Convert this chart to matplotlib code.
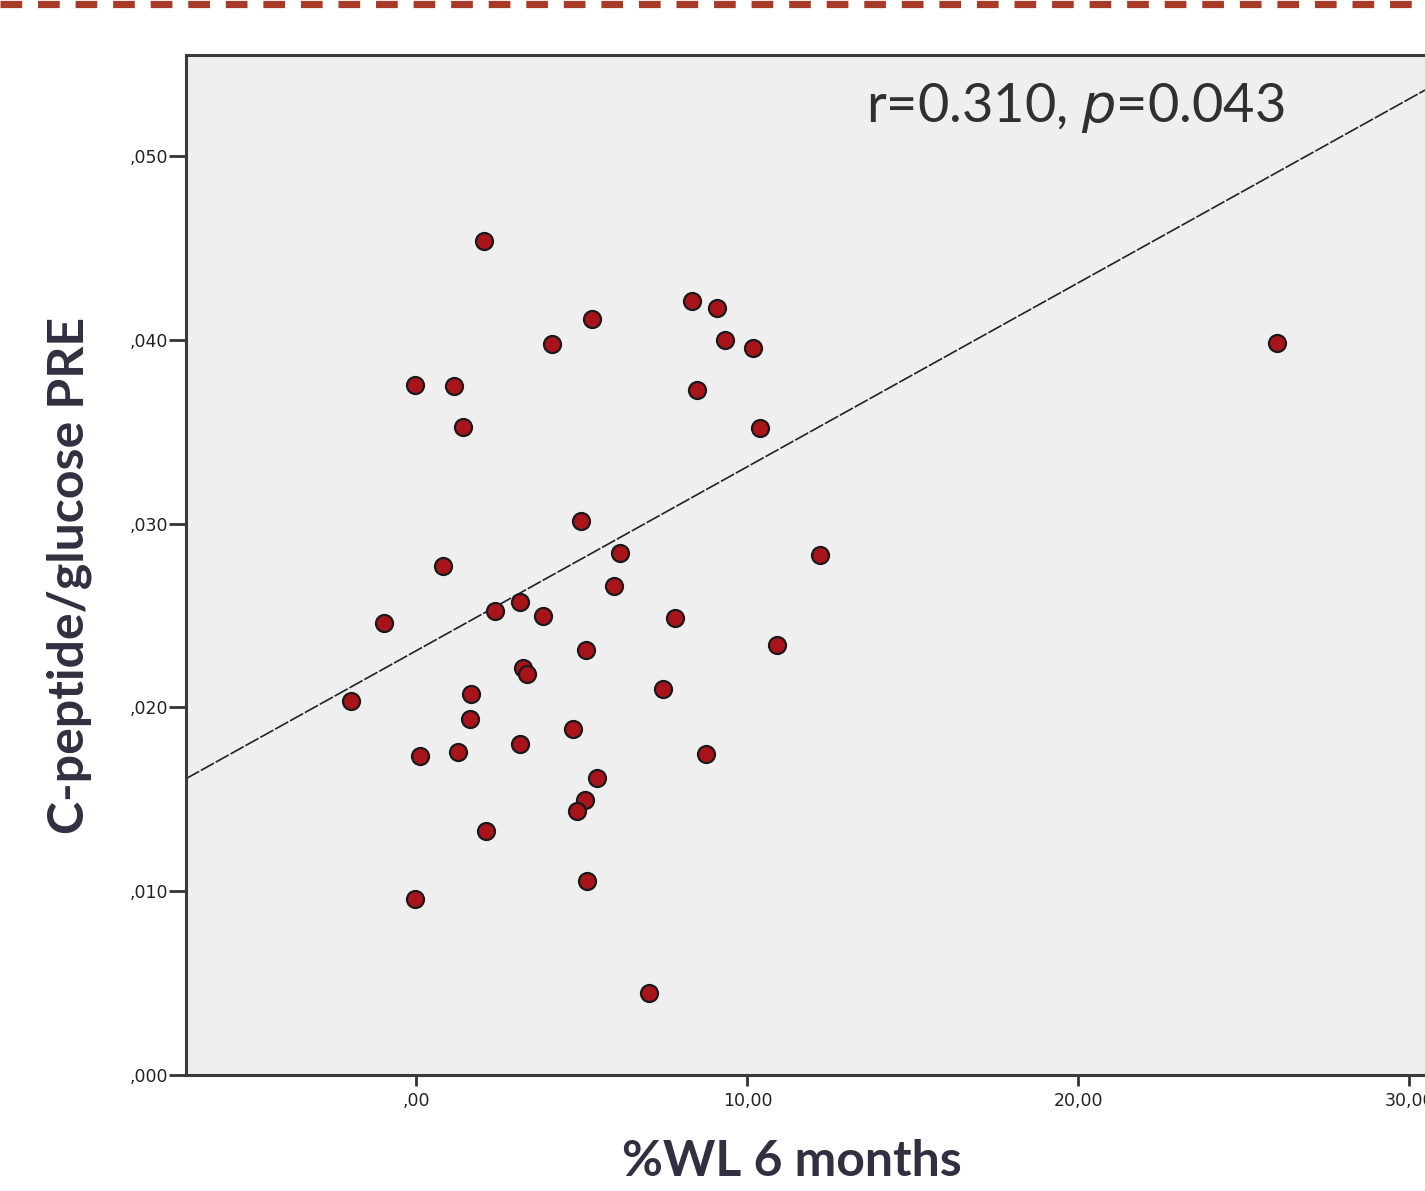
"""Scatter of C-peptide/glucose PRE vs %WL at 6 months (SPSS style)."""
import matplotlib.pyplot as plt
from matplotlib.lines import Line2D
from matplotlib.ticker import FixedLocator, FixedFormatter

# %WL 6 months vs C-peptide/glucose ratio before surgery
wl_6m = [2.04, -0.05, 1.13, 1.40, 4.09, 5.30, 8.32, 9.08, 9.32, 10.17,
         8.47, 10.38, 26.0, 4.97, 6.15, 12.19, 5.97, 0.80, -0.98, 2.37,
         3.13, 3.82, 7.81, 5.12, 10.89, 3.22, 3.34, 1.65, 7.45, -1.98,
         1.62, 4.73, 0.11, 1.25, 3.13, 8.75, 5.45, 5.09, 4.85, 2.10,
         5.16, -0.05, 7.02]
cpep_gluc = [0.04537, 0.03753, 0.03747, 0.03524, 0.03976, 0.04112, 0.04210,
             0.04172, 0.03998, 0.03954, 0.03725, 0.03519, 0.03981, 0.03017,
             0.02843, 0.02832, 0.02663, 0.02772, 0.02462, 0.02527, 0.02576,
             0.02500, 0.02484, 0.02315, 0.02337, 0.02217, 0.02184, 0.02075,
             0.02102, 0.02037, 0.01939, 0.01885, 0.01737, 0.01759, 0.01803,
             0.01748, 0.01618, 0.01498, 0.01438, 0.01329, 0.01057, 0.00959,
             0.00447]

# linear fit shown on the chart
fit_intercept = 0.02309
fit_slope = 0.001001

x_ticks = [0, 10, 20, 30]
x_tick_labels = [",00", "10,00", "20,00", "30,00"]
y_ticks = [0.0, 0.01, 0.02, 0.03, 0.04, 0.05]
y_tick_labels = [",000", ",010", ",020", ",030", ",040", ",050"]

fig = plt.figure(figsize=(14.25, 11.91), dpi=100)
ax = fig.add_axes([186 / 1425, 1 - 1075 / 1191, 1 - 186 / 1425, (1075 - 55) / 1191])
ax.set_facecolor("#efefef")

xlim = (-6.96, 30.47)
ax.set_xlim(*xlim)
ax.set_ylim(0, 0.0555)

# regression line
ax.plot(xlim, [fit_intercept + fit_slope * v for v in xlim],
        color="#222222", lw=1.2, linestyle=(0, (9, 1.2)), zorder=2)

ax.scatter(wl_6m, cpep_gluc, s=150, color="#a8141a", edgecolor="#1a1a1a",
           linewidth=1.6, zorder=3)

for side in ["left", "bottom", "top"]:
    ax.spines[side].set_color("#3a3a3a")
    ax.spines[side].set_linewidth(2.2)
ax.spines["right"].set_visible(False)

ax.xaxis.set_major_locator(FixedLocator(x_ticks))
ax.xaxis.set_major_formatter(FixedFormatter(x_tick_labels))
ax.yaxis.set_major_locator(FixedLocator(y_ticks))
ax.yaxis.set_major_formatter(FixedFormatter(y_tick_labels))
ax.tick_params(axis="x", length=8, width=2, color="#333333", pad=4,
               labelsize=12.5, labelcolor="#222222")
ax.tick_params(axis="y", length=12, width=2, color="#333333", pad=1,
               labelsize=12.5, labelcolor="#222222")

ax.text(0.718, 0.948, "r=0.310, $\\it{p}$=0.043", transform=ax.transAxes,
        ha="center", va="center", fontsize=39, family="Lato", color="#303030")

fig.text(69 / 1425, 1 - 575 / 1191, "C-peptide/glucose PRE", rotation=90,
         ha="center", va="center", fontsize=36, fontweight="bold",
         family="Lato", color="#303040")
fig.text(792 / 1425, 1 - 1161 / 1191, "%WL 6 months", ha="center", va="center",
         fontsize=36, fontweight="bold", family="Lato", color="#303040")

# dashed red rule across the top of the slide
fig.add_artist(Line2D([0, 1], [1 - 3.5 / 1191, 1 - 3.5 / 1191],
                      transform=fig.transFigure, color="#a83a28", lw=5.2,
                      dashes=(3.0, 2.2), dash_capstyle="butt",
                      solid_capstyle="butt"))

plt.savefig("out.png", dpi=100)
